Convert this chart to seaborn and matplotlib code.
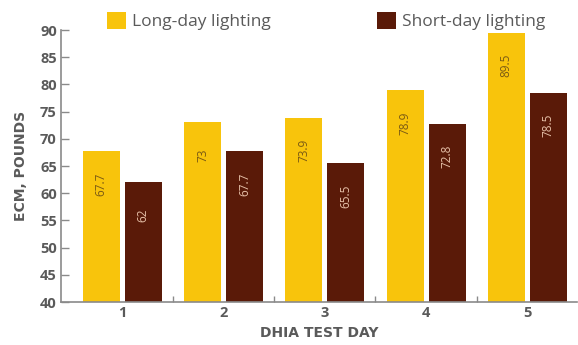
import matplotlib
matplotlib.use("Agg")
import matplotlib.pyplot as plt
from matplotlib.patches import Patch
from matplotlib.ticker import FixedLocator
import seaborn as sns
import pandas as pd

# ECM yield by DHIA test day under two lighting regimes
test_days = ["1", "2", "3", "4", "5"]
long_day = [67.7, 73, 73.9, 78.9, 89.5]
short_day = [62, 67.7, 65.5, 72.8, 78.5]
series_names = ["Long-day lighting", "Short-day lighting"]
long_labels = ["67.7", "73", "73.9", "78.9", "89.5"]
short_labels = ["62", "67.7", "65.5", "72.8", "78.5"]

YELLOW = "#F8C40C"
BROWN = "#5A1A08"
AXIS_GRAY = "#8a8a8a"
TEXT_GRAY = "#5a5a5a"

df = pd.DataFrame({
    "day": test_days * 2,
    "ecm": long_day + short_day,
    "lighting": [series_names[0]] * 5 + [series_names[1]] * 5,
})

sns.set_theme(style="white")
plt.rcParams["font.family"] = ["Open Sans", "DejaVu Sans"]

fig = plt.figure(figsize=(5.78, 3.45), dpi=100)
ax = fig.add_axes([61 / 578, 43 / 345, 516 / 578, 272 / 345])

sns.barplot(data=df, x="day", y="ecm", hue="lighting", order=test_days,
            hue_order=series_names, palette=[YELLOW, BROWN],
            width=0.83, gap=0.12, saturation=1, edgecolor="none",
            linewidth=0, ax=ax, legend=False)

ax.set_ylim(40, 90)
ax.set_xlim(-0.605, 4.49)

# value labels written up the bars
for container, labels, color in zip(ax.containers, [long_labels, short_labels],
                                    ["#7a5a14", "#e6c0a8"]):
    for bar, lab in zip(container, labels):
        x = bar.get_x() + bar.get_width() / 2
        y = bar.get_height() - 6
        ax.text(x, y, lab, rotation=90, ha="center", va="center",
                fontsize=8.5, color=color)

for side in ["top", "right"]:
    ax.spines[side].set_visible(False)
for side in ["left", "bottom"]:
    ax.spines[side].set_color(AXIS_GRAY)
    ax.spines[side].set_linewidth(1.2)

ax.set_yticks(range(40, 91, 5))
ax.tick_params(axis="y", direction="in", length=6, width=1, color=AXIS_GRAY,
               labelsize=10.5, labelcolor=TEXT_GRAY, pad=3, left=True)
ax.tick_params(axis="x", which="major", length=0, labelsize=10.5,
               labelcolor=TEXT_GRAY, pad=3)
ax.xaxis.set_minor_locator(FixedLocator([0.5, 1.5, 2.5, 3.5, 4.5]))
ax.tick_params(axis="x", which="minor", direction="in", length=4, width=1,
               color=AXIS_GRAY, bottom=True)
for lab in ax.get_yticklabels() + ax.get_xticklabels():
    lab.set_fontweight("bold")

ax.set_xlabel("DHIA TEST DAY", fontsize=10, fontweight="bold",
              family="DejaVu Sans", color=TEXT_GRAY, labelpad=4)
ax.set_ylabel("ECM, POUNDS", fontsize=10, fontweight="bold",
              family="DejaVu Sans", color=TEXT_GRAY, labelpad=9)

handles = [Patch(facecolor=YELLOW, edgecolor="none"),
           Patch(facecolor=BROWN, edgecolor="none")]
fig.legend(handles, series_names, loc="center left",
           bbox_to_anchor=(107 / 578, 1 - 21 / 345), ncol=2, frameon=False,
           fontsize=12.5, labelcolor=TEXT_GRAY, handlelength=1.1,
           handleheight=1.1, handletextpad=0.35, columnspacing=6.1,
           borderaxespad=0, borderpad=0)

fig.savefig("out.png", dpi=100, facecolor="white")
